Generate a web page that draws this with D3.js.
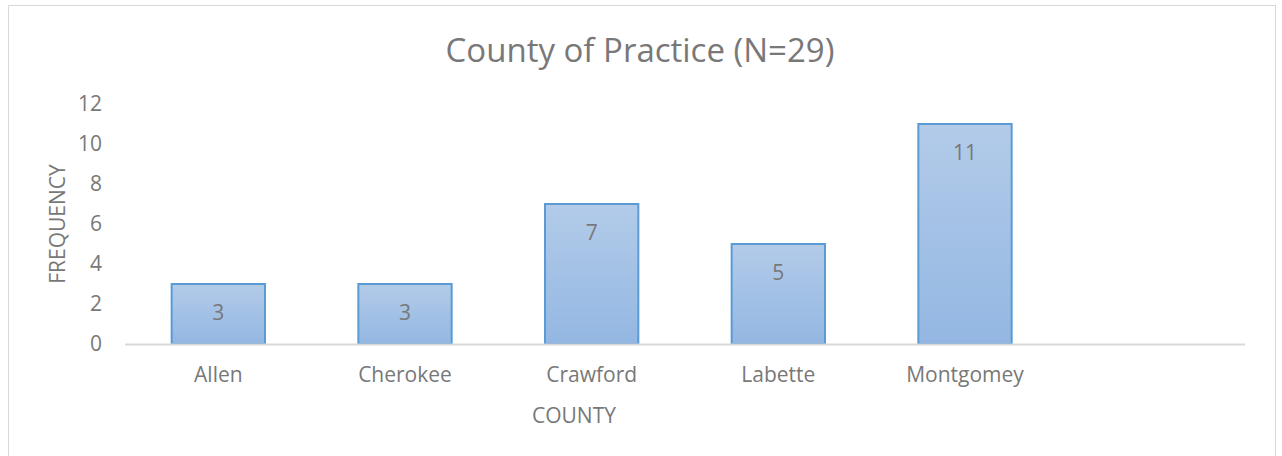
<!DOCTYPE html>
<html>
<head>
<meta charset="utf-8">
<script src="https://cdn.jsdelivr.net/npm/d3@7"></script>
<style>
  body { margin: 0; background: #fff; }
  text { font-family: "Open Sans", "Noto Sans", sans-serif; fill: #787878; }
</style>
</head>
<body>
<div id="chart"></div>
<script>
// chart data
const counties = ["Allen", "Cherokee", "Crawford", "Labette", "Montgomey", ""];
const frequency = [3, 3, 7, 5, 11, null];
const yTicks = [0, 2, 4, 6, 8, 10, 12];

const width = 1282, height = 456;
const margin = { top: 104, right: 37, bottom: 112, left: 125 };

const svg = d3.select("#chart").append("svg")
    .attr("width", width)
    .attr("height", height);

// outer chart border
svg.append("rect")
    .attr("x", 8.5).attr("y", 5.5)
    .attr("width", 1267).attr("height", 460)
    .attr("fill", "#fff")
    .attr("stroke", "#d9d9d9");

const defs = svg.append("defs");
const grad = defs.append("linearGradient")
    .attr("id", "barGrad")
    .attr("x1", 0).attr("y1", 0).attr("x2", 0).attr("y2", 1);
grad.append("stop").attr("offset", "0%").attr("stop-color", "#b3cbe9");
grad.append("stop").attr("offset", "100%").attr("stop-color", "#93b7e2");

const x = d3.scaleBand()
    .domain(counties.map((d, i) => i))
    .range([margin.left, width - margin.right])
    .paddingInner(0.5)
    .paddingOuter(0.25);

const y = d3.scaleLinear()
    .domain([0, 12])
    .range([height - margin.bottom, margin.top]);

// title
svg.append("text")
    .attr("x", 640).attr("y", 50)
    .attr("dy", "0.35em")
    .attr("text-anchor", "middle")
    .style("font-size", "33px")
    .text("County of Practice (N=29)");

// y axis labels
svg.append("g")
    .selectAll("text")
    .data(yTicks)
    .join("text")
    .attr("x", 102)
    .attr("y", d => y(d))
    .attr("dy", "0.35em")
    .attr("text-anchor", "end")
    .style("font-size", "21px")
    .text(d => d);

// bars
const data = counties.map((c, i) => ({ i, county: c, value: frequency[i] }))
    .filter(d => d.value != null);

svg.append("g")
    .selectAll("rect")
    .data(data)
    .join("rect")
    .attr("x", d => x(d.i))
    .attr("y", d => y(d.value))
    .attr("width", x.bandwidth())
    .attr("height", d => y(0) - y(d.value))
    .attr("fill", "url(#barGrad)")
    .attr("stroke", "#5b9bd5")
    .attr("stroke-width", 2);

// data labels
svg.append("g")
    .selectAll("text")
    .data(data)
    .join("text")
    .attr("x", d => x(d.i) + x.bandwidth() / 2)
    .attr("y", d => y(d.value) + 29)
    .attr("dy", "0.35em")
    .attr("text-anchor", "middle")
    .style("font-size", "21px")
    .text(d => d.value);

// x axis line
svg.append("line")
    .attr("x1", margin.left).attr("x2", width - margin.right)
    .attr("y1", y(0) + 0.5).attr("y2", y(0) + 0.5)
    .attr("stroke", "#d9d9d9")
    .attr("stroke-width", 2);

// category labels
svg.append("g")
    .selectAll("text")
    .data(counties.map((c, i) => ({ c, i })))
    .join("text")
    .attr("x", d => x(d.i) + x.bandwidth() / 2)
    .attr("y", 375)
    .attr("dy", "0.35em")
    .attr("text-anchor", "middle")
    .style("font-size", "21px")
    .text(d => d.c);

// axis titles
svg.append("text")
    .attr("x", 574).attr("y", 416)
    .attr("dy", "0.35em")
    .attr("text-anchor", "middle")
    .style("font-size", "21px")
    .text("COUNTY");

svg.append("text")
    .attr("transform", `translate(58,${y(6)}) rotate(-90)`)
    .attr("dy", "0.35em")
    .attr("text-anchor", "middle")
    .style("font-size", "21px")
    .text("FREQUENCY");
</script>
</body>
</html>
